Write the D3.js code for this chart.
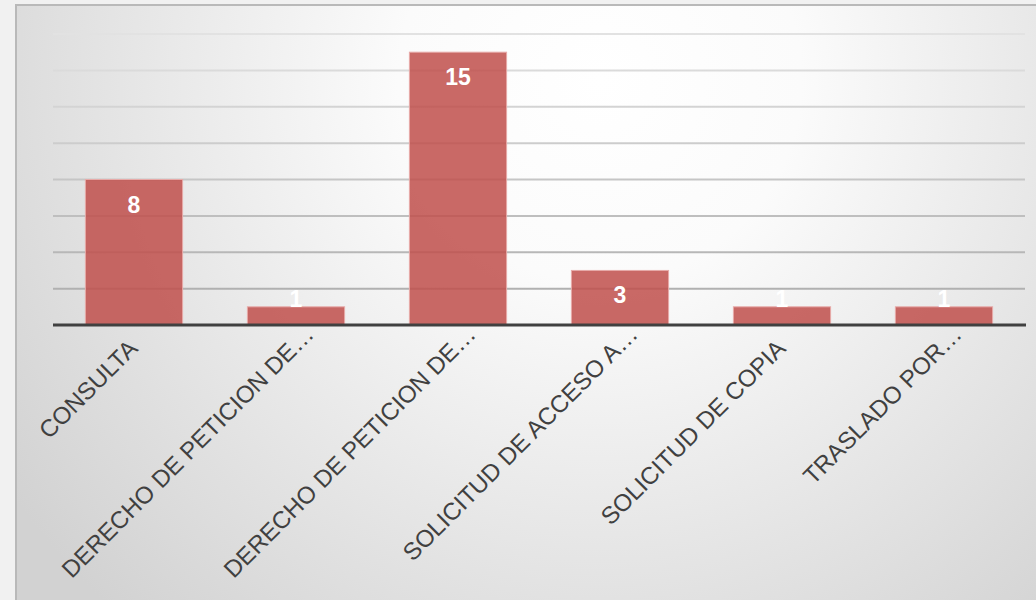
<!DOCTYPE html>
<html>
<head>
<meta charset="utf-8">
<script src="https://cdn.jsdelivr.net/npm/d3@7"></script>
<style>
  html, body { margin: 0; padding: 0; background: #f1f1f1; }
  #chart { width: 1036px; height: 600px; }
  svg { display: block; font-family: "Liberation Sans", Arial, sans-serif; }
</style>
</head>
<body>
<div id="chart"></div>
<script>
// Chart data
const categories = ['CONSULTA', 'DERECHO DE PETICION DE…', 'DERECHO DE PETICION DE…',
    'SOLICITUD DE ACCESO A…', 'SOLICITUD DE COPIA', 'TRASLADO POR…'];
const values = [8, 1, 15, 3, 1, 1];
const yTicks = [0, 2, 4, 6, 8, 10, 12, 14, 16];

const W = 1036, H = 600;
const plot = { left: 53, right: 1025, top: 34, bottom: 325 };

const svg = d3.select('#chart').append('svg')
    .attr('width', W)
    .attr('height', H);

const defs = svg.append('defs');

// soft radial background of the chart frame
const bg = defs.append('radialGradient')
    .attr('id', 'bg')
    .attr('gradientUnits', 'userSpaceOnUse')
    .attr('cx', 600).attr('cy', 80).attr('r', 720);
bg.append('stop').attr('offset', '0%').attr('stop-color', '#ffffff');
bg.append('stop').attr('offset', '28%').attr('stop-color', '#fbfbfb');
bg.append('stop').attr('offset', '100%').attr('stop-color', '#d2d2d2');

// gridlines get darker towards the bottom
const gridGrad = defs.append('linearGradient')
    .attr('id', 'gridGrad')
    .attr('gradientUnits', 'userSpaceOnUse')
    .attr('x1', 0).attr('y1', plot.top).attr('x2', 0).attr('y2', plot.bottom);
gridGrad.append('stop').attr('offset', '0%').attr('stop-color', '#e2e2e2');
gridGrad.append('stop').attr('offset', '100%').attr('stop-color', '#a9a9a9');

// frame
svg.append('rect')
    .attr('x', 16).attr('y', 5)
    .attr('width', W + 10).attr('height', H + 10)
    .attr('fill', 'url(#bg)')
    .attr('stroke', '#b9b9b9')
    .attr('stroke-width', 2);

const x = d3.scaleBand()
    .domain(d3.range(categories.length))
    .range([plot.left, plot.right])
    .paddingInner(0.4)
    .paddingOuter(0.2);

const y = d3.scaleLinear()
    .domain([0, d3.max(yTicks)])
    .range([plot.bottom, plot.top]);

// Gridlines
svg.append('g')
    .selectAll('line')
    .data(yTicks.filter(d => d > 0))
    .join('line')
    .attr('x1', plot.left).attr('x2', plot.right)
    .attr('y1', d => y(d)).attr('y2', d => y(d))
    .attr('stroke', 'url(#gridGrad)')
    .attr('stroke-width', 2);

// Bars
svg.append('g')
    .selectAll('rect')
    .data(values)
    .join('rect')
    .attr('x', (d, i) => x(i))
    .attr('y', d => y(d))
    .attr('width', x.bandwidth())
    .attr('height', d => y(0) - y(d))
    .attr('fill', '#c0504d')
    .attr('fill-opacity', 0.86)
    .attr('stroke', '#e7aaa8')
    .attr('stroke-width', 1);

// Baseline
svg.append('line')
    .attr('x1', plot.left).attr('x2', plot.right + 1)
    .attr('y1', y(0)).attr('y2', y(0))
    .attr('stroke', '#404040')
    .attr('stroke-width', 3);

// Value labels (inside end, pushed up for the short bars)
svg.append('g')
    .selectAll('text')
    .data(values)
    .join('text')
    .attr('x', (d, i) => x(i) + x.bandwidth() / 2)
    .attr('y', d => (y(0) - y(d) > 40) ? y(d) + 33 : y(d))
    .attr('text-anchor', 'middle')
    .style('font-size', '23px')
    .style('font-weight', 'bold')
    .style('fill', '#ffffff')
    .text(d => d);

// Category labels, rotated; truncated ones sit a bit further up the slope
svg.append('g')
    .selectAll('text')
    .data(categories)
    .join('text')
    .attr('transform', (d, i) => `translate(${x(i) + x.bandwidth() / 2 + 5},${y(0) + 25}) rotate(-45)`)
    .attr('dx', d => d.endsWith('…') ? 20 : 0)
    .attr('text-anchor', 'end')
    .style('font-size', '24px')
    .style('fill', '#404040')
    .text(d => d);
</script>
</body>
</html>
